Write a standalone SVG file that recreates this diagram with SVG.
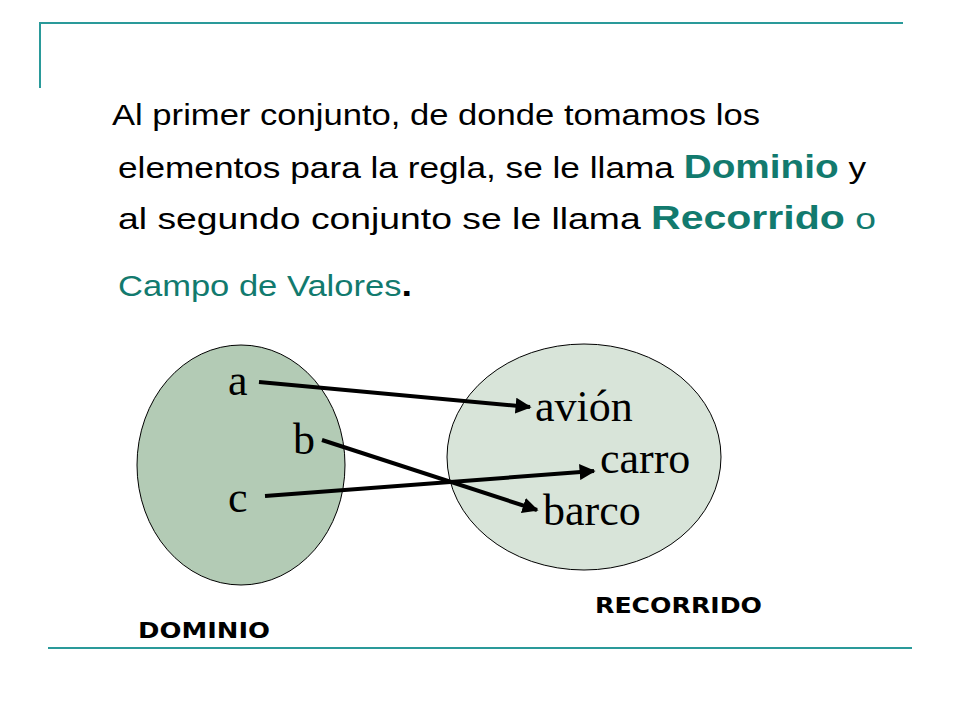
<svg xmlns="http://www.w3.org/2000/svg" width="960" height="720" viewBox="0 0 960 720">
<style>
.t{font-family:"Liberation Sans",Arial,sans-serif;font-size:30px;fill:#000}
.h{fill:#127a6e;font-weight:bold;font-size:33px}
.g{fill:#127a6e}
.s{font-family:"Liberation Serif","Times New Roman",serif;font-size:44px;fill:#000}
.l{font-family:"DejaVu Sans",sans-serif;font-size:21px;font-weight:bold;fill:#000}
.c{stroke:#000;stroke-width:4;fill:none;marker-end:url(#ar)}
</style>
<defs><marker id="ar" viewBox="0 0 10 10" refX="9" refY="5" markerWidth="4" markerHeight="4" orient="auto" markerUnits="strokeWidth"><path d="M0,0L10,5L0,10z" fill="#000"/></marker></defs>
<rect width="960" height="720" fill="#fff"/>
<g stroke="#2a9a9a" stroke-width="2"><path d="M40,88V23H903" fill="none"/><path d="M48,648H912"/></g>
<text class="t" x="112" y="125" textLength="648" lengthAdjust="spacingAndGlyphs">Al primer conjunto, de donde tomamos los</text>
<text class="t" x="118" y="178" textLength="748" lengthAdjust="spacingAndGlyphs">elementos para la regla, se le llama <tspan class="h">Dominio</tspan> y</text>
<text class="t" x="118" y="229" textLength="758" lengthAdjust="spacingAndGlyphs">al segundo conjunto se le llama <tspan class="h">Recorrido</tspan> <tspan class="g">o</tspan></text>
<text class="t" x="118" y="296" textLength="294" lengthAdjust="spacingAndGlyphs"><tspan class="g">Campo de Valores</tspan><tspan font-weight="bold" font-size="33">.</tspan></text>
<g id="dominio"><ellipse cx="241" cy="465" rx="104" ry="120" fill="#b3cbb5" stroke="#000"/>
<text class="s" x="228" y="395">a</text><text class="s" x="293" y="454">b</text><text class="s" x="228" y="512">c</text></g>
<g id="recorrido"><ellipse cx="584" cy="457" rx="137" ry="113" fill="#d8e4d9" stroke="#000"/>
<text class="s" x="535" y="421">avión</text><text class="s" x="600" y="473">carro</text><text class="s" x="543" y="525">barco</text></g>
<g id="connectors">
<path class="c" d="M259,382L530,407"/>
<path class="c" d="M322,440L537,510"/>
<path class="c" d="M265,496L594,471"/>
</g>
<text class="l" x="138" y="638" textLength="132" lengthAdjust="spacingAndGlyphs">DOMINIO</text>
<text class="l" x="595" y="613" textLength="167" lengthAdjust="spacingAndGlyphs">RECORRIDO</text>
</svg>
